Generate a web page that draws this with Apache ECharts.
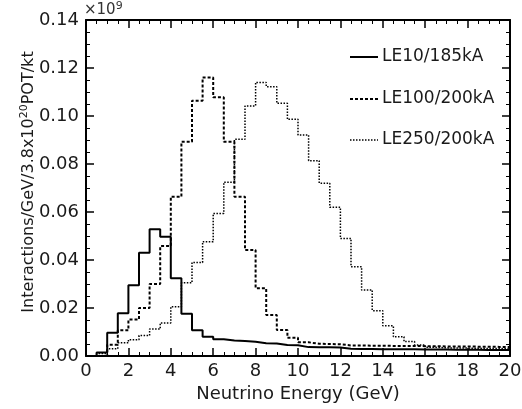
<!DOCTYPE html>
<html>
<head>
<meta charset="utf-8">
<script src="https://cdn.jsdelivr.net/npm/echarts@6/dist/echarts.min.js"></script>
<style>
html,body{margin:0;padding:0;background:#fff;}
#c{width:522px;height:409px;}
</style>
</head>
<body>
<div id="c"></div>
<script>
// Bin lower edges (GeV), 0.5 GeV bins from 0 to 20
const binEdges = [0,0.5,1,1.5,2,2.5,3,3.5,4,4.5,5,5.5,6,6.5,7,7.5,8,8.5,9,9.5,
  10,10.5,11,11.5,12,12.5,13,13.5,14,14.5,15,15.5,16,16.5,17,17.5,18,18.5,19,19.5];
const lastEdge = 20;
const xTicks = [0,2,4,6,8,10,12,14,16,18,20];
const yTicks = [0,0.02,0.04,0.06,0.08,0.10,0.12,0.14];

const seriesNames = ['LE10/185kA','LE100/200kA','LE250/200kA'];

const le10 = [0,0.0015,0.0097,0.0178,0.0295,0.0430,0.0528,0.0497,0.0324,0.0176,
  0.0107,0.0080,0.0070,0.0065,0.0062,0.0059,0.0053,0.0052,0.0046,0.0045,
  0.0037,0.0036,0.0036,0.0035,0.0030,0.0029,0.0029,0.0028,0.0028,0.0028,
  0.0028,0.0027,0.0027,0.0027,0.0026,0.0026,0.0026,0.0025,0.0025,0.0025];

const le100 = [0,0,0.0047,0.0107,0.0152,0.0200,0.0300,0.0458,0.0664,0.0893,
  0.1064,0.1160,0.1078,0.0893,0.0664,0.0442,0.0282,0.0171,0.0108,0.0076,
  0.0057,0.0051,0.0050,0.0049,0.0044,0.0044,0.0043,0.0043,0.0042,0.0042,
  0.0042,0.0041,0.0041,0.0040,0.0040,0.0040,0.0039,0.0039,0.0038,0.0038];

const le250 = [0,0.0010,0.0030,0.0055,0.0068,0.0085,0.0112,0.0138,0.0205,0.0305,
  0.0390,0.0476,0.0594,0.0724,0.0903,0.1042,0.1140,0.1122,0.1053,0.0986,
  0.0921,0.0814,0.0720,0.0620,0.0490,0.0372,0.0275,0.0189,0.0126,0.0080,
  0.0060,0.0046,0.0036,0.0034,0.0033,0.0033,0.0032,0.0031,0.0031,0.0030];

function hist(vals){
  const d = binEdges.map((e,i)=>[e, vals[i]]);
  d.push([lastEdge, vals[vals.length-1]]);
  return d;
}

const FONT = '"DejaVu Sans", Verdana, sans-serif';
const TXT = '#1a1a1a';
const chart = echarts.init(document.getElementById('c'), null, {renderer:'canvas'});

const axisCommon = {
  axisLine:{show:true, onZero:false, lineStyle:{color:'#000', width:2}},
  axisTick:{show:true, inside:true, length:8, lineStyle:{color:'#000', width:1.5}},
  minorTick:{show:true, splitNumber:4, length:4, lineStyle:{color:'#000', width:1}},
  splitLine:{show:false}
};

const lineStyles = [
  {width:2, type:'solid', dash:null},
  {width:2, type:[3,2], dash:[3,2]},
  {width:1.5, type:[1.5,1.5], dash:[1.5,1.5]}
];
const legendY = [57, 99, 140];

const legendGraphics = [];
seriesNames.forEach((n,i)=>{
  legendGraphics.push({type:'line', shape:{x1:350, y1:legendY[i], x2:378, y2:legendY[i]},
    style:{stroke:'#000', lineWidth:lineStyles[i].width, lineDash:lineStyles[i].dash}});
  legendGraphics.push({type:'text', x:382, y:legendY[i], style:{text:n, fill:TXT,
    font:'17px '+FONT, verticalAlign:'middle', align:'left'}});
});

chart.setOption({
  animation:false,
  backgroundColor:'#fff',
  grid:{left:86, right:12, top:20, bottom:53, containLabel:false, outerBoundsMode:'none'},
  xAxis:[
    Object.assign({type:'value', min:xTicks[0], max:xTicks[xTicks.length-1], interval:2, position:'bottom',
      axisLabel:{color:TXT, fontSize:18, fontFamily:FONT, margin:6},
      name:'Neutrino Energy (GeV)', nameLocation:'middle', nameGap:29,
      nameTextStyle:{color:TXT, fontSize:18, fontFamily:FONT}}, axisCommon),
    Object.assign({type:'value', min:xTicks[0], max:xTicks[xTicks.length-1], interval:2, position:'top',
      axisLabel:{show:false}}, axisCommon)
  ],
  yAxis:[
    Object.assign({type:'value', min:yTicks[0], max:yTicks[yTicks.length-1], interval:0.02, position:'left',
      axisLabel:{color:TXT, fontSize:18, fontFamily:FONT, margin:7, formatter:v=>v.toFixed(2)}}, axisCommon),
    Object.assign({type:'value', min:yTicks[0], max:yTicks[yTicks.length-1], interval:0.02, position:'right',
      axisLabel:{show:false}}, axisCommon)
  ],
  graphic:[
    {type:'text', left:84, top:1, style:{text:'×10{s|9}', fill:'#333', font:'15px '+FONT,
      rich:{s:{fontSize:11, verticalAlign:'top', fill:'#333', fontFamily:FONT, padding:[0,0,8,0]}}}},
    {type:'text', x:29, y:182, rotation:Math.PI/2, style:{text:'Interactions/GeV/3.8x10{s|20}POT/kt',
      fill:TXT, font:'16px '+FONT, align:'center', verticalAlign:'middle',
      rich:{s:{fontSize:11, fill:TXT, fontFamily:FONT, padding:[0,0,10,0]}}}}
  ].concat(legendGraphics),
  series:seriesNames.map((n,i)=>({
    name:n, type:'line', step:'end', symbol:'none', data:hist([le10,le100,le250][i]),
    lineStyle:{color:'#000', width:lineStyles[i].width, type:lineStyles[i].type},
    itemStyle:{color:'#000'}
  }))
});
</script>
</body>
</html>
